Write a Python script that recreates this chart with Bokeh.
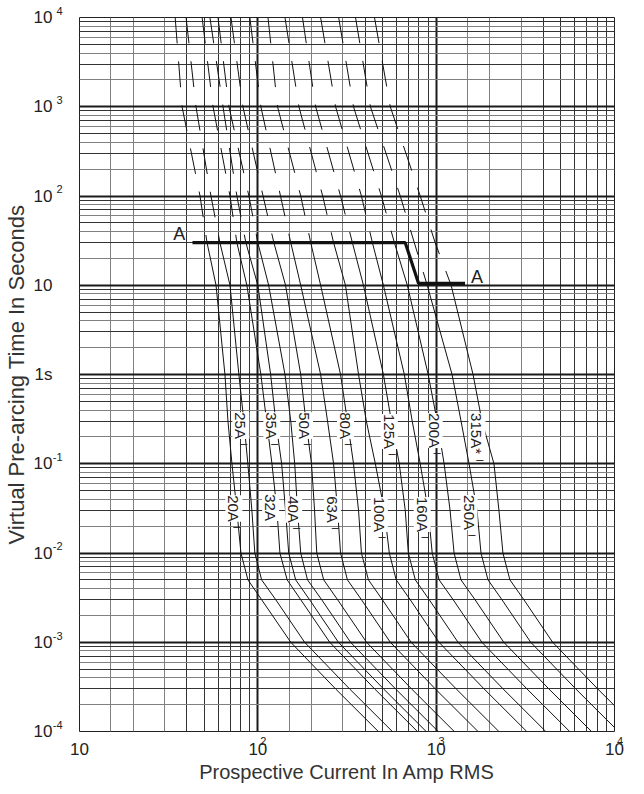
import numpy as np
from bokeh.plotting import figure
from bokeh.models import FixedTicker, CustomJSTickFormatter, Grid, LogAxis
from bokeh.core.properties import value
from bokeh.embed import file_html
from bokeh.resources import INLINE

# ---- data (current in A at each pre-arcing time in s) ----
times = [10000, 1000, 100, 30, 10, 1, 0.3, 0.1, 0.03, 0.01, 0.005, 0.003, 0.001, 0.0003, 0.0001]

ratings = ["20A", "25A", "32A", "35A", "40A", "50A", "63A", "80A",
           "100A", "125A", "160A", "200A", "250A", "315A"]

i_20A = [34.4, 37.6, 47.4, 51.9, 58.3, 65.4, 68.0, 71.6, 76.3, 80.4, 88.0, 105, 153, 273, 474]
i_25A = [39.6, 45.0, 54.6, 61.3, 69.8, 78.3, 83.5, 87.9, 92.6, 96.2, 105, 126, 183, 327, 568]
i_32A = [48.7, 56.1, 69.8, 76.3, 86.8, 104, 112, 120, 128, 133, 146, 174, 253, 452, 785]
i_35A = [53.9, 63.8, 76.3, 85.7, 100, 118, 126, 136, 143, 149, 163, 195, 283, 507, 879]
i_40A = [59.8, 68.9, 89.1, 100, 115, 142, 153, 161, 167, 174, 190, 228, 331, 592, 1027]
i_50A = [70.7, 82.5, 107, 123, 143, 174, 186, 200, 208, 214, 234, 280, 407, 728, 1263]
i_63A = [90.2, 104, 134, 153, 174, 225, 246, 266, 280, 291, 318, 381, 553, 989, 1717]
i_80A = [114, 129, 174, 198, 225, 291, 318, 344, 367, 381, 417, 499, 724, 1295, 2248]
i_100A = [142, 170, 231, 266, 310, 367, 406, 456, 512, 546, 597, 715, 1037, 1856, 3221]
i_125A = [178, 211, 291, 339, 391, 506, 561, 621, 671, 698, 764, 914, 1326, 2373, 4118]
i_160A = [225, 273, 381, 439, 506, 663, 734, 814, 902, 950, 1039, 1245, 1805, 3230, 5605]
i_200A = [284, 344, 493, 583, 689, 902, 1013, 1108, 1197, 1260, 1378, 1651, 2394, 4284, 7434]
i_250A = [353, 428, 629, 754, 891, 1228, 1379, 1529, 1695, 1784, 1952, 2337, 3390, 6066, 10526]
i_315A = [451, 553, 814, 987, 1213, 1610, 1807, 2109, 2249, 2368, 2591, 3102, 4499, 8051, 13971]

curves = [i_20A, i_25A, i_32A, i_35A, i_40A, i_50A, i_63A, i_80A,
          i_100A, i_125A, i_160A, i_200A, i_250A, i_315A]

# time above which each curve is drawn dashed (above line A)
dashed_above = [30, 30, 30, 30, 30, 30, 30, 30, 30, 30, 30, 30, 10, 10]

# line A
a_current = [43, 671, 796, 1452]
a_time = [30, 30, 10.5, 10.5]
a_label_current = [36.2, 1694]
a_label_time = [37.8, 12.5]

# curve labels
label_text = ["25A", "35A", "50A", "80A", "125A", "200A", "315A*",
              "20A", "32A", "40A", "63A", "100A", "160A", "250A"]
label_current = [80.3, 119.8, 182.8, 310, 546, 975, 1694,
                 73.4, 118, 159, 262, 480, 835, 1529]
label_time = [0.268, 0.268, 0.268, 0.268, 0.230, 0.2355, 0.218,
              0.0315, 0.0323, 0.0307, 0.0307, 0.027, 0.027, 0.0284]

x_ticks = [10, 100, 1000, 10000]
y_ticks = [1e-4, 1e-3, 1e-2, 1e-1, 1, 10, 100, 1000, 10000]

FONT = "Liberation Sans"
TXT = "#222222"

p = figure(width=636, height=786, x_axis_type="log", y_axis_type="log",
           x_range=(10, 1e4), y_range=(1e-4, 1e4),
           output_backend="svg", toolbar_location=None,
           min_border_left=78, min_border_right=22, min_border_top=17, min_border_bottom=55)
p.background_fill_color = "white"
p.border_fill_color = "white"
p.outline_line_color = "#222222"
p.outline_line_width = 1
p.grid.visible = False

# ---- grid ----
DARK = "#333333"
GRAY = "#808080"
x_dec = [10, 100, 1000]
y_dec = [1e-4, 1e-3, 1e-2, 1e-1, 1, 10, 100, 1000]
grid_specs = [
    (0, [d * m for d in x_dec for m in (1.5, 2, 3)], GRAY, 1),
    (0, [d * m for d in x_dec for m in (4, 5, 6, 7, 8, 9)], DARK, 1),
    (0, [100, 1000], "#1a1a1a", 2),
    (1, [d * m for d in y_dec for m in (2, 4, 6, 8)], GRAY, 1),
    (1, [d * m for d in y_dec for m in (3, 5, 7, 9)], DARK, 1),
    (1, [1e-3, 1e-2, 1e-1, 1, 10, 100, 1000], "#1a1a1a", 2),
]
for dim, ticks, col, w in grid_specs:
    g = Grid(dimension=dim, ticker=FixedTicker(ticks=ticks),
             grid_line_color=col, grid_line_width=w)
    p.add_layout(g)

# ---- curves ----
for cur, lim in zip(curves, dashed_above):
    dx = [c for c, t in zip(cur, times) if t >= lim]
    dy = [t for t in times if t >= lim]
    sx = [c for c, t in zip(cur, times) if t <= lim]
    sy = [t for t in times if t <= lim]
    p.line(dx, dy, line_color="#111111", line_width=1, line_dash="26 18")
    p.line(sx, sy, line_color="#111111", line_width=1)

# ---- line A ----
p.line(a_current, a_time, line_color="#111111", line_width=3.2)
p.text(x=a_label_current, y=a_label_time, text=["A", "A"],
       text_font=value(FONT), text_font_size="18px", text_color=TXT,
       text_align="center", text_baseline="middle")

# ---- curve labels ----
p.text(x=label_current, y=label_time, text=label_text, angle=-np.pi / 2,
       text_font=value(FONT), text_font_size="15px", text_color=TXT,
       text_align="center", text_baseline="middle",
       background_fill_color="white")
half = [len(s) * 4.2 + 5 for s in label_text]
p.text(x=label_current, y=label_time, text=["\u2013"] * len(label_text),
       x_offset=6.5, y_offset=half,
       text_font=value(FONT), text_font_size="13px", text_color=TXT,
       text_align="right", text_baseline="middle")

# ---- axes: inner axes carry the superscript exponents, outer axes the "10" ----
x_exp_fmt = CustomJSTickFormatter(code="""
const e = Math.round(Math.log10(tick));
return e == 1 ? "" : "\\u2002\\u2002" + e;
""")
x_base_fmt = CustomJSTickFormatter(code="return '10';")
y_exp_fmt = CustomJSTickFormatter(code="""
const e = Math.round(Math.log10(tick));
return (e == 0 || e == 1) ? "" : String(e) + "\\n";
""")
y_base_fmt = CustomJSTickFormatter(code="""
const e = Math.round(Math.log10(tick));
return e == 0 ? "1s" : "10";
""")


def style(ax, size, label_size):
    ax.axis_line_color = None
    ax.major_tick_line_color = None
    ax.minor_tick_line_color = None
    ax.major_tick_out = 0
    ax.major_tick_in = 0
    ax.major_label_text_font = FONT
    ax.major_label_text_font_size = size
    ax.major_label_text_color = TXT
    ax.axis_label_text_font = FONT
    ax.axis_label_text_font_size = label_size
    ax.axis_label_text_font_style = "normal"
    ax.axis_label_text_color = "#333333"


# inner x axis (exponents)
xa = p.xaxis[0]
xa.ticker = FixedTicker(ticks=x_ticks)
xa.formatter = x_exp_fmt
style(xa, "11px", "20px")
xa.major_label_standoff = 3
xa.major_label_text_align = "left"

# outer x axis ("10")
xb = LogAxis(ticker=FixedTicker(ticks=x_ticks), formatter=x_base_fmt)
style(xb, "17px", "20px")
xb.major_label_standoff = -7
xb.major_label_text_baseline = "middle"
xb.axis_label = "Prospective Current In Amp RMS"
xb.axis_label_standoff = 3
p.add_layout(xb, "below")

# inner y axis (exponents)
ya = p.yaxis[0]
ya.ticker = FixedTicker(ticks=y_ticks)
ya.formatter = y_exp_fmt
style(ya, "11px", "22px")
ya.major_label_standoff = 17
ya.major_label_text_line_height = 1.1

# outer y axis ("10", "1s")
yb = LogAxis(ticker=FixedTicker(ticks=y_ticks), formatter=y_base_fmt)
style(yb, "17px", "22px")
yb.major_label_standoff = -3
yb.axis_label = "Virtual Pre-arcing Time In Seconds"
yb.axis_label_standoff = 2
p.add_layout(yb, "left")

open("out.html", "w", encoding="utf-8").write(file_html(p, INLINE))
